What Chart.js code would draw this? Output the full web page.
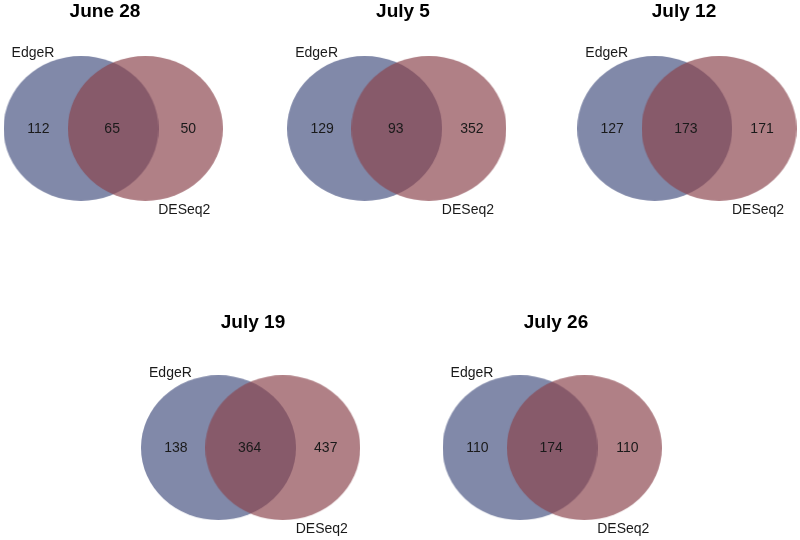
<!DOCTYPE html>
<html>
<head>
<meta charset="utf-8">
<script src="https://cdn.jsdelivr.net/npm/chart.js@4.4.1/dist/chart.umd.min.js"></script>
<style>
  html, body { margin: 0; padding: 0; background: #fff; }
  body { width: 800px; height: 540px; position: relative; overflow: hidden; }
  .panel { position: absolute; width: 250px; height: 230px; }
</style>
</head>
<body>
<div id="wrap"></div>
<script>
// data, one entry per sampling date
const dates = ['June 28', 'July 5', 'July 12', 'July 19', 'July 26'];
const setNames = ['EdgeR', 'DESeq2'];
const edgeROnly = [112, 129, 127, 138, 110];
const shared = [65, 93, 173, 364, 174];
const deseq2Only = [50, 352, 171, 437, 110];

// page layout of each panel (pixels)
const panelTitleX = [104.5, 403, 684, 252.5, 556];
const panelCanvasTop = [0, 0, 0, 311, 311];
const panelCentreX = [79.5, 363, 653.5, 216.5, 518.5]; // EdgeR circle centre
const panelCentreY = [131, 131, 131, 450.5, 450.5];

const W = 250, H = 230;
const SEP = 67;            // px between the two set centres (= 1 unit on x)
const RX = 77.5, RY = 72.5;
const TITLE_SIZE = 19;
const titleH = TITLE_SIZE * 1.2;

function ellipseImage(fill) {
  const c = document.createElement('canvas');
  c.width = RX * 2;
  c.height = RY * 2;
  const g = c.getContext('2d');
  g.fillStyle = fill;
  g.beginPath();
  g.ellipse(RX, RY, RX, RY, 0, 0, Math.PI * 2);
  g.fill();
  return c;
}

const blueEllipse = ellipseImage('rgb(129,137,169)');
const redEllipse = ellipseImage('rgba(139,68,76,0.68)');

const vennText = {
  id: 'vennText',
  afterDatasetsDraw(chart, args, opts) {
    const { ctx, scales: { x, y } } = chart;
    const i = opts.index;
    const x0 = x.getPixelForValue(0);
    const x1 = x.getPixelForValue(1);
    const cy = y.getPixelForValue(0);
    ctx.save();
    ctx.fillStyle = '#1a1a1a';
    ctx.textAlign = 'center';
    ctx.textBaseline = 'alphabetic';
    ctx.font = '14px "Liberation Sans", Arial, sans-serif';
    ctx.fillText(String(edgeROnly[i]), x0 - 42.5, cy + 4.5);
    ctx.fillText(String(shared[i]), (x0 + x1) / 2 - 1, cy + 4.5);
    ctx.fillText(String(deseq2Only[i]), x1 + 43, cy + 4.5);
    ctx.fillText(setNames[0], x0 - 48, cy - 71);
    ctx.fillText(setNames[1], x1 + 39, cy + 85.5);
    ctx.restore();
  }
};

const wrap = document.getElementById('wrap');

dates.forEach((date, i) => {
  const canvas = document.createElement('canvas');
  canvas.className = 'panel';
  const left = panelTitleX[i] - W / 2;
  const top = panelCanvasTop[i];
  canvas.style.left = left + 'px';
  canvas.style.top = top + 'px';
  canvas.width = W;
  canvas.height = H;
  wrap.appendChild(canvas);

  const cxLocal = panelCentreX[i] - left;
  const cyLocal = panelCentreY[i] - top;
  const xMin = -cxLocal / SEP;
  const xMax = (W - cxLocal) / SEP;
  const yMax = (cyLocal - titleH) / SEP;
  const yMin = -(H - cyLocal) / SEP;

  new Chart(canvas, {
    type: 'scatter',
    data: {
      datasets: [
        {
          label: setNames[0],
          data: [{ x: 0, y: 0 }],
          pointStyle: blueEllipse,
          order: 1, // drawn first, under DESeq2
          clip: false,
        },
        {
          label: setNames[1],
          data: [{ x: 1, y: 0 }],
          pointStyle: redEllipse,
          order: 0,
          clip: false,
        },
      ],
    },
    options: {
      responsive: false,
      animation: false,
      events: [],
      layout: { padding: 0 },
      scales: {
        x: { type: 'linear', min: xMin, max: xMax, display: false },
        y: { type: 'linear', min: yMin, max: yMax, display: false },
      },
      plugins: {
        legend: { display: false },
        tooltip: { enabled: false },
        title: {
          display: true,
          text: date,
          color: '#000',
          padding: 0,
          font: { family: '"Liberation Sans", Arial, sans-serif', size: TITLE_SIZE, weight: 'bold' },
        },
        vennText: { index: i },
      },
    },
    plugins: [vennText],
  });
});
</script>
</body>
</html>
